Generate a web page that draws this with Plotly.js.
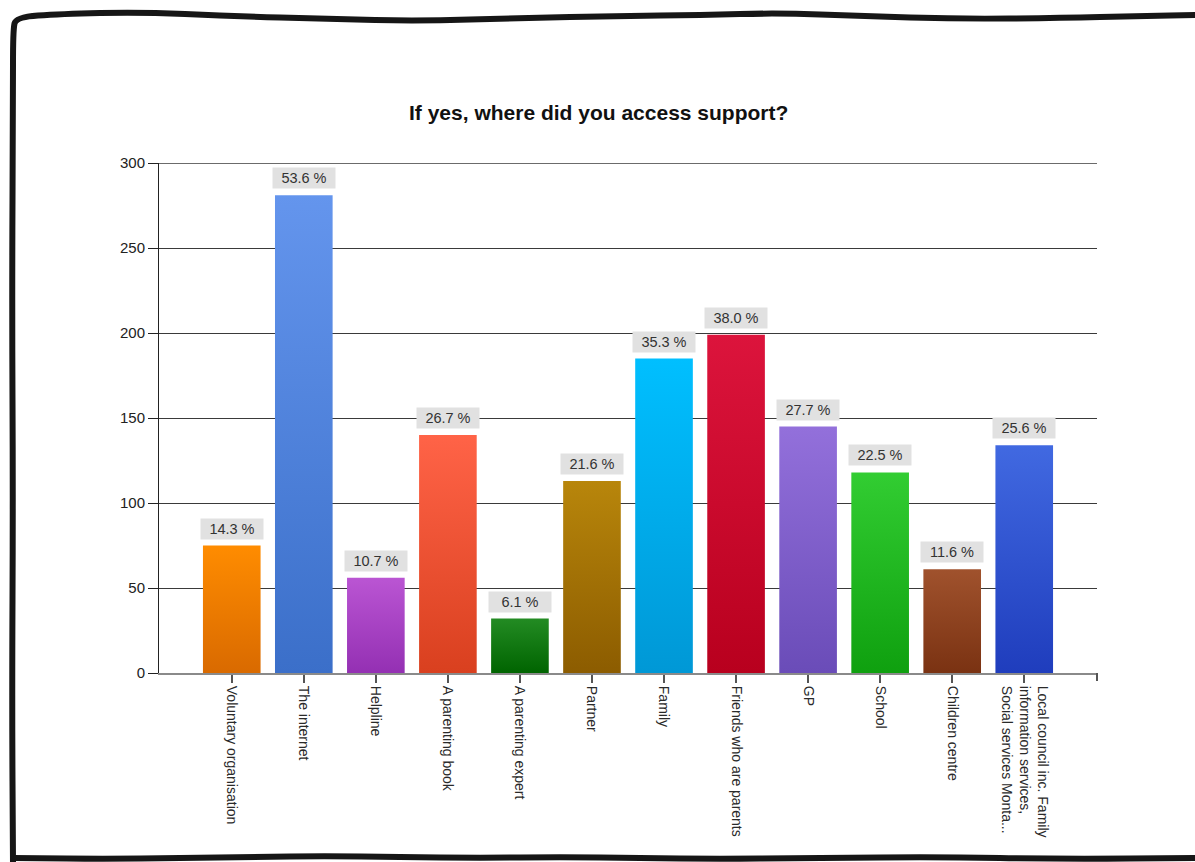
<!DOCTYPE html>
<html>
<head>
<meta charset="utf-8">
<script src="https://cdn.plot.ly/plotly-3.0.1.min.js"></script>
<style>
  html, body { margin: 0; padding: 0; background: #ffffff; }
  #chart { width: 1195px; height: 862px; }
</style>
</head>
<body>
<div id="chart"></div>
<script>
// Where respondents accessed support: counts and share of respondents
const categories = [
  'Voluntary organisation',
  'The internet',
  'Helpline',
  'A parenting book',
  'A parenting expert',
  'Partner',
  'Family',
  'Friends who are parents',
  'GP',
  'School',
  'Children centre',
  'Local council inc. Family<br>information services,<br>Social services Monta...'
];
const counts = [75, 281, 56, 140, 32, 113, 185, 199, 145, 118, 61, 134];
const percents = [14.3, 53.6, 10.7, 26.7, 6.1, 21.6, 35.3, 38.0, 27.7, 22.5, 11.6, 25.6];
const yTicks = [0, 50, 100, 150, 200, 250, 300];

// Per-bar gradient colours (top, bottom)
const topColors = ['#ff8c00', '#6495ed', '#ba55d3', '#ff6347', '#238b23', '#b8860b',
                   '#00bfff', '#dc143c', '#9370db', '#32cd32', '#a0522d', '#4169e1'];
const bottomColors = ['#d96a00', '#3b6fc9', '#9430b3', '#d9401f', '#006400', '#8c5c00',
                      '#0098d6', '#b8001e', '#6a4cb8', '#0fa00f', '#7a3212', '#1f3dbd'];

const W = 1195, H = 862;
const M = { l: 159, r: 98, t: 163, b: 189 };
const PW = W - M.l - M.r, PH = H - M.t - M.b;

// pixel -> paper helpers for the hand-drawn frame around the chart
const px = x => (x - M.l) / PW;
const py = y => (H - M.b - y) / PH;

const framePts = [
  [13, 862], [12, 700], [13, 500], [12, 300], [13, 100], [13, 30], [16, 17],
  [60, 14], [140, 12], [230, 16], [330, 19], [420, 21], [520, 18], [620, 16],
  [700, 15], [780, 13], [860, 16], [960, 19], [1060, 18], [1140, 16], [1200, 15]
];
const bottomPts = [
  [13, 858], [120, 859], [240, 857], [340, 856], [460, 858], [580, 857],
  [700, 859], [820, 858], [940, 857], [1060, 859], [1200, 858]
];
function smoothPath(pts) {
  let d = 'M' + px(pts[0][0]) + ',' + py(pts[0][1]);
  for (let i = 1; i < pts.length; i++) {
    const p0 = pts[i - 1], p1 = pts[i];
    const mx = (p0[0] + p1[0]) / 2, my = (p0[1] + p1[1]) / 2;
    d += ' Q' + px(p0[0]) + ',' + py(p0[1]) + ' ' + px(mx) + ',' + py(my);
  }
  const last = pts[pts.length - 1];
  d += ' L' + px(last[0]) + ',' + py(last[1]);
  return d;
}

const trace = {
  type: 'bar',
  x: categories,
  y: counts,
  width: 0.8,
  marker: { color: topColors, line: { width: 0 } },
  hoverinfo: 'x+y'
};

const annotations = categories.map((c, i) => ({
  x: c,
  y: counts[i],
  xref: 'x',
  yref: 'y',
  text: percents[i].toFixed(1) + ' %',
  showarrow: false,
  yanchor: 'bottom',
  yshift: 6,
  bgcolor: '#e1e1e1',
  width: 60,
  height: 18,
  borderpad: 1,
  font: { family: 'Liberation Sans, Arial, sans-serif', size: 14.5, color: '#333333' }
}));

const layout = {
  width: W,
  height: H,
  margin: M,
  paper_bgcolor: '#ffffff',
  plot_bgcolor: '#ffffff',
  showlegend: false,
  bargap: 0.2,
  font: { family: 'Liberation Sans, Arial, sans-serif', color: '#222222' },
  title: {
    text: '<b>If yes, where did you access support?</b>',
    x: 0.501,
    xref: 'container',
    xanchor: 'center',
    y: 1 - 113 / H,
    yref: 'container',
    yanchor: 'middle',
    font: { family: 'Liberation Sans, Arial, sans-serif', size: 21, color: '#111111' }
  },
  xaxis: {
    type: 'category',
    range: [-1.01, 12.01],
    tickangle: 90,
    ticks: 'outside',
    ticklen: 8,
    tickwidth: 2,
    tickcolor: '#555555',
    showline: true,
    linecolor: '#8a8a8a',
    linewidth: 2,
    showgrid: false,
    tickfont: { family: 'Liberation Sans, Arial, sans-serif', size: 14, color: '#2a2a2a' },
    fixedrange: true
  },
  yaxis: {
    range: [0, 300],
    tickvals: yTicks,
    ticktext: yTicks.map(String),
    ticks: 'outside',
    ticklen: 10,
    tickwidth: 1,
    tickcolor: '#222222',
    showline: true,
    linecolor: '#222222',
    linewidth: 1,
    showgrid: true,
    gridcolor: '#3a3a3a',
    gridwidth: 1,
    zeroline: false,
    tickfont: { family: 'Liberation Sans, Arial, sans-serif', size: 15, color: '#222222' },
    fixedrange: true
  },
  annotations: annotations,
  shapes: [
    // gridline along the top of the value range
    { type: 'line', xref: 'paper', yref: 'y', x0: 0, x1: 1, y0: 300, y1: 300,
      line: { color: '#3a3a3a', width: 1.5 }, layer: 'below' },
    { type: 'line', xref: 'paper', yref: 'paper', x0: 1, x1: 1, y0: 0, y1: -8 / PH,
      line: { color: '#555555', width: 2 } },
    { type: 'path', xref: 'paper', yref: 'paper', path: smoothPath(framePts),
      line: { color: '#161616', width: 6 }, layer: 'above' },
    { type: 'path', xref: 'paper', yref: 'paper', path: smoothPath(bottomPts),
      line: { color: '#161616', width: 6 }, layer: 'above' }
  ]
};

// Shade each bar with a vertical gradient from its top colour to its bottom colour
function applyGradients(gd) {
  const svg = gd.querySelector('svg.main-svg');
  const ns = 'http://www.w3.org/2000/svg';
  let defs = svg.querySelector('defs');
  if (!defs) { defs = document.createElementNS(ns, 'defs'); svg.insertBefore(defs, svg.firstChild); }
  topColors.forEach((c, i) => {
    const g = document.createElementNS(ns, 'linearGradient');
    g.setAttribute('id', 'barGrad' + i);
    g.setAttribute('x1', '0'); g.setAttribute('y1', '0');
    g.setAttribute('x2', '0'); g.setAttribute('y2', '1');
    const s1 = document.createElementNS(ns, 'stop');
    s1.setAttribute('offset', '0'); s1.setAttribute('stop-color', c);
    const s2 = document.createElementNS(ns, 'stop');
    s2.setAttribute('offset', '1'); s2.setAttribute('stop-color', bottomColors[i]);
    g.appendChild(s1); g.appendChild(s2);
    defs.appendChild(g);
  });
  gd.querySelectorAll('.barlayer .point path').forEach((p, i) => {
    p.style.fill = 'url(#barGrad' + i + ')';
  });
}

Plotly.newPlot('chart', [trace], layout, { staticPlot: true, displayModeBar: false })
  .then(applyGradients);
</script>
</body>
</html>
